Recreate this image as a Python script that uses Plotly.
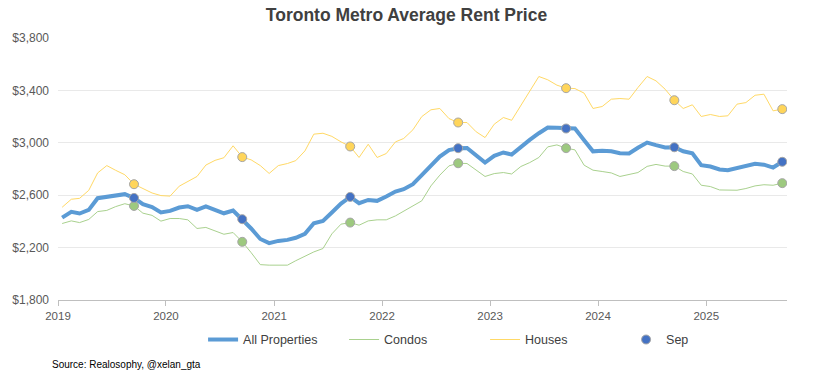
import pandas as pd
import plotly.graph_objects as go

# Monthly data, Jan 2019 – Sep 2025
months = pd.date_range("2019-01-01", "2025-09-01", freq="MS")

all_properties = [
    2429, 2473, 2460, 2488, 2577, 2590, 2597, 2608, 2579, 2531, 2510, 2468,
    2480, 2506, 2516, 2488, 2515, 2490, 2462, 2483, 2417, 2346, 2266, 2234,
    2251, 2259, 2275, 2305, 2386, 2404, 2468, 2536, 2587, 2539, 2564, 2557,
    2590, 2628, 2646, 2684, 2753, 2824, 2895, 2944, 2959, 2961, 2905, 2849,
    2900, 2926, 2910, 2972, 3022, 3073, 3117, 3114, 3109, 3109, 3020, 2935,
    2940, 2935, 2920, 2918, 2962, 3002, 2982, 2964, 2966, 2935, 2920, 2829,
    2819, 2796, 2790, 2805, 2819, 2840, 2833, 2811, 2855,
]
condos = [
    2384, 2404, 2391, 2415, 2475, 2484, 2513, 2535, 2518, 2463, 2446, 2402,
    2422, 2422, 2412, 2346, 2354, 2328, 2302, 2315, 2244, 2162, 2070, 2066,
    2066, 2066, 2100, 2137, 2167, 2193, 2305, 2379, 2391, 2371, 2404, 2412,
    2412, 2442, 2480, 2519, 2557, 2671, 2753, 2824, 2844, 2842, 2793, 2743,
    2765, 2773, 2762, 2819, 2849, 2888, 2969, 2984, 2959, 2946, 2829, 2791,
    2781, 2770, 2743, 2756, 2773, 2820, 2835, 2822, 2822, 2781, 2762, 2676,
    2666, 2640, 2641, 2638, 2651, 2671, 2680, 2676, 2692,
]
houses = [
    2508, 2569, 2576, 2637, 2770, 2826, 2790, 2756, 2684, 2651, 2617, 2597,
    2593, 2669, 2707, 2743, 2830, 2866, 2886, 2977, 2891, 2870, 2826, 2766,
    2826, 2842, 2864, 2938, 3066, 3073, 3049, 3007, 2972, 2888, 2989, 2888,
    2918, 3007, 3033, 3099, 3200, 3252, 3262, 3185, 3155, 3155, 3084, 3040,
    3142, 3193, 3172, 3282, 3397, 3506, 3481, 3440, 3417, 3414, 3379, 3262,
    3277, 3333, 3338, 3333, 3422, 3506, 3473, 3409, 3325, 3262, 3290, 3201,
    3216, 3201, 3206, 3295, 3307, 3363, 3371, 3244, 3257,
]

y_ticks = [1800, 2200, 2600, 3000, 3400, 3800]
y_tick_labels = ["$1,800", "$2,200", "$2,600", "$3,000", "$3,400", "$3,800"]
year_ticks = ["2019", "2020", "2021", "2022", "2023", "2024", "2025"]

x = months + pd.Timedelta(days=14)
sep_idx = [i for i, m in enumerate(months) if m.month == 9]
x_sep = [x[i] for i in sep_idx]

FONT = "Liberation Sans"
BLUE = "#5b9bd5"
GREEN = "#a9d18e"
GOLD = "#ffd966"

fig = go.Figure()
fig.add_trace(go.Scatter(x=x, y=all_properties, mode="lines", name="All Properties",
                         line=dict(color=BLUE, width=4)))
fig.add_trace(go.Scatter(x=x, y=condos, mode="lines", name="Condos",
                         line=dict(color=GREEN, width=1)))
fig.add_trace(go.Scatter(x=x, y=houses, mode="lines", name="Houses",
                         line=dict(color=GOLD, width=1)))
marker_line = dict(color="#a6a6a6", width=1)
fig.add_trace(go.Scatter(x=x_sep, y=[houses[i] for i in sep_idx], mode="markers",
                         showlegend=False, marker=dict(color="#ffd55a", size=9, line=marker_line)))
fig.add_trace(go.Scatter(x=x_sep, y=[condos[i] for i in sep_idx], mode="markers",
                         showlegend=False, marker=dict(color="#9dc97f", size=9, line=marker_line)))
fig.add_trace(go.Scatter(x=x_sep, y=[all_properties[i] for i in sep_idx], mode="markers",
                         name="Sep", marker=dict(color="#4472c4", size=9, line=marker_line)))

fig.update_layout(
    width=813, height=378,
    margin=dict(l=58, r=26, t=38, b=78),
    paper_bgcolor="white", plot_bgcolor="white",
    font=dict(family=FONT, color="#595959", size=11),
    title=dict(text="<b>Toronto Metro Average Rent Price</b>", x=0.5, xanchor="center",
               y=0.96, yanchor="middle", font=dict(size=17.5, color="#404040", family=FONT)),
    showlegend=True,
    legend=dict(orientation="h", x=0.199, xanchor="left", y=-0.095, yanchor="top",
                font=dict(size=12.5, color="#404040", family=FONT),
                entrywidth=96, entrywidthmode="pixels", itemwidth=30, traceorder="normal"),
    xaxis=dict(
        type="date",
        range=["2019-01-01", "2025-10-01"],
        tickmode="array",
        tickvals=[f"{y}-01-01" for y in year_ticks],
        ticktext=year_ticks,
        ticks="outside", ticklen=5, tickcolor="#bfbfbf",
        showline=True, linecolor="#bfbfbf", linewidth=1,
        showgrid=False, zeroline=False,
        tickfont=dict(size=11.5, color="#595959"),
    ),
    yaxis=dict(
        range=[1800, 3800],
        tickmode="array", tickvals=y_ticks, ticktext=y_tick_labels,
        showgrid=True, gridcolor="#e9e9e9", gridwidth=1,
        zeroline=False, showline=False, ticks="", ticklabelstandoff=8,
        tickfont=dict(size=12, color="#595959"),
    ),
    annotations=[dict(text="Source: Realosophy, @xelan_gta", xref="paper", yref="paper",
                      x=-0.011, y=-0.248, xanchor="left", yanchor="middle", showarrow=False,
                      font=dict(size=10, color="#000000", family=FONT))],
)

fig.write_html("out.html", config={"displayModeBar": False},
               post_script="document.body.style.margin='0px';")
